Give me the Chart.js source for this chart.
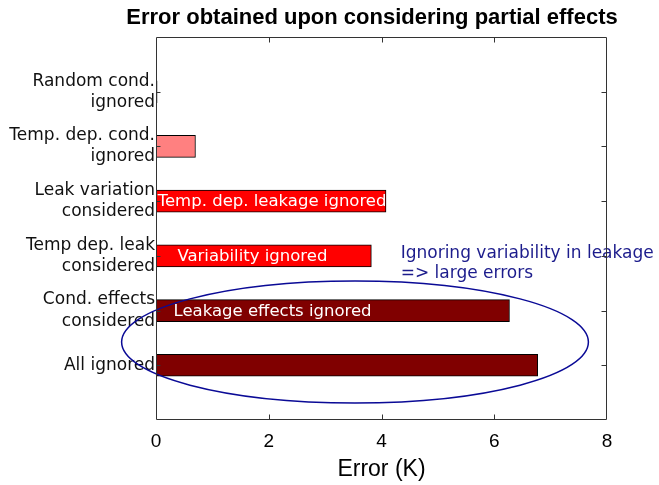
<!DOCTYPE html>
<html>
<head>
<meta charset="utf-8">
<script src="https://cdn.jsdelivr.net/npm/chart.js@4.4.0/dist/chart.umd.min.js"></script>
<style>
  html, body { margin: 0; padding: 0; background: #fff; }
  #wrap { width: 659px; height: 485px; }
</style>
</head>
<body>
<div id="wrap"><canvas id="myChart"></canvas></div>
<script>
const chartTitle = "Error obtained upon considering partial effects";
const categories = [
  ["Random cond.", "ignored"],
  ["Temp. dep. cond.", "ignored"],
  ["Leak variation", "considered"],
  ["Temp dep. leak", "considered"],
  ["Cond. effects", "considered"],
  ["All ignored"]
];
const errors = [0.02, 0.7, 4.08, 3.82, 6.27, 6.77];
const xTicks = [0, 2, 4, 6, 8];
const barNotes = ["", "", "Temp. dep. leakage ignored", "Variability ignored", "Leakage effects ignored", ""];
const calloutLines = ["Ignoring variability in leakage", "=> large errors"];

// empty slots above and below so the axis runs 0..7 like the original
const labels = [""].concat(categories, [""]);
const values = [null].concat(errors, [null]);
const colors = ["#ff8080", "#ff8080", "#ff0000", "#ff0000", "#800000", "#800000"];

const extras = {
  id: "extras",
  afterDatasetsDraw(chart) {
    const { ctx, chartArea: a, scales } = chart;
    const x = scales.x, y = scales.y;
    ctx.save();

    // text inside the bars
    const noteX = [0, 0, 0.03, 0.38, 0.31, 0];
    ctx.font = "16.5px 'DejaVu Sans'";
    ctx.fillStyle = "#ffffff";
    ctx.textBaseline = "middle";
    ctx.textAlign = "left";
    barNotes.forEach((t, i) => {
      if (t) ctx.fillText(t, x.getPixelForValue(noteX[i]), y.getPixelForValue(i + 1) + 1);
    });

    // callout
    ctx.font = "17px 'DejaVu Sans'";
    ctx.fillStyle = "#1c1c8c";
    calloutLines.forEach((t, i) => {
      ctx.fillText(t, x.getPixelForValue(4.34), y.getPixelForValue(4) - 2 + i * 20);
    });

    // ellipse
    const cx = x.getPixelForValue(3.53), cy = y.getPixelForValue(5.575);
    const rx = x.getPixelForValue(3.53 + 4.14) - cx;
    const ry = y.getPixelForValue(5.575 + 1.115) - cy;
    ctx.beginPath();
    ctx.ellipse(cx, cy, rx, ry, 0, 0, Math.PI * 2);
    ctx.strokeStyle = "#0a0a96";
    ctx.lineWidth = 1.5;
    ctx.stroke();

    // frame with inward ticks
    ctx.strokeStyle = "#333333";
    ctx.lineWidth = 1;
    const L = Math.round(a.left) + 0.5, R = Math.round(a.right) - 0.5;
    const T = Math.round(a.top) + 0.5, B = Math.round(a.bottom) - 0.5;
    ctx.beginPath();
    ctx.rect(L, T, R - L, B - T);
    xTicks.slice(1, -1).forEach(v => {
      const px = Math.round(x.getPixelForValue(v)) + 0.5;
      ctx.moveTo(px, B); ctx.lineTo(px, B - 5);
      ctx.moveTo(px, T); ctx.lineTo(px, T + 5);
    });
    categories.forEach((c, i) => {
      const py = Math.round(y.getPixelForValue(i + 1)) + 0.5;
      ctx.moveTo(L, py); ctx.lineTo(L + 4, py);
      ctx.moveTo(R, py); ctx.lineTo(R - 5, py);
    });
    ctx.stroke();

    // title
    ctx.fillStyle = "#000";
    ctx.font = "bold 22px 'Liberation Sans', Arial";
    ctx.textAlign = "center";
    ctx.fillText(chartTitle, 372, 18);
    ctx.restore();
  }
};

new Chart(document.getElementById("myChart"), {
  type: "bar",
  data: {
    labels: labels,
    datasets: [{
      data: values,
      backgroundColor: [null].concat(colors, [null]),
      borderColor: "#000000",
      borderWidth: 1,
      borderSkipped: false,
      barThickness: 22
    }]
  },
  options: {
    indexAxis: "y",
    responsive: true,
    maintainAspectRatio: false,
    animation: false,
    layout: { padding: { top: 37, right: 52, bottom: 0, left: 0 } },
    plugins: {
      legend: { display: false },
      tooltip: { enabled: false }
    },
    scales: {
      x: {
        type: "linear",
        min: 0,
        max: 8,
        afterFit: s => { s.height = 65; },
        afterBuildTicks: s => { s.ticks = xTicks.map(v => ({ value: v })); },
        grid: { display: false, drawTicks: false },
        border: { display: false },
        ticks: {
          padding: 10,
          color: "#000",
          font: { family: "'Liberation Sans', Arial", size: 19 }
        },
        title: {
          display: true,
          text: "Error (K)",
          color: "#000",
          font: { family: "'Liberation Sans', Arial", size: 23 },
          padding: { top: 0, bottom: 2 }
        }
      },
      y: {
        offset: false,
        afterFit: s => { s.width = 156; },
        grid: { display: false, drawTicks: false },
        border: { display: false },
        ticks: {
          padding: 1,
          autoSkip: false,
          color: "#111111",
          font: { family: "'DejaVu Sans'", size: 17, lineHeight: 1.24 }
        }
      }
    }
  },
  plugins: [extras]
});
</script>
</body>
</html>
